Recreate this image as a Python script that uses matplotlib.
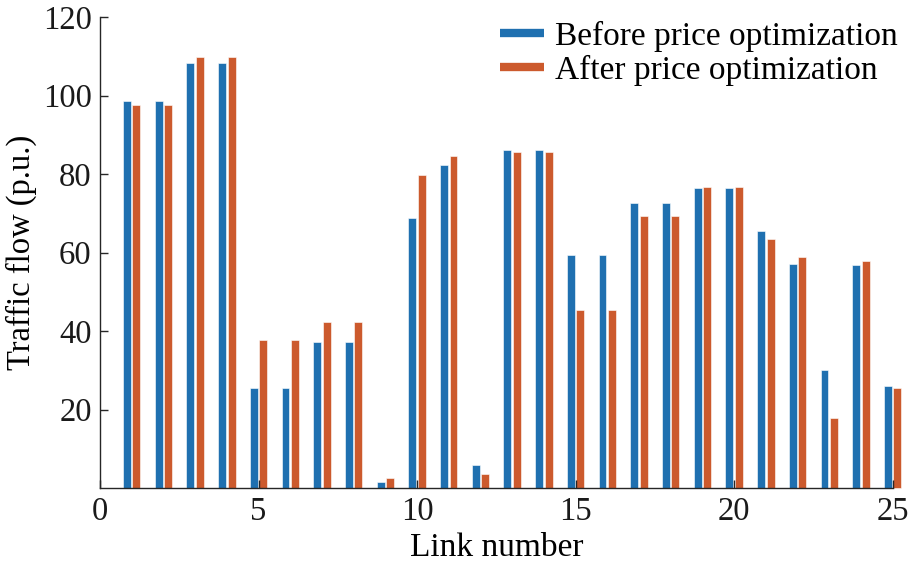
import numpy as np
import matplotlib
matplotlib.use("Agg")
import matplotlib.pyplot as plt
from matplotlib.lines import Line2D

plt.rcParams['font.family'] = ['Liberation Serif', 'DejaVu Serif']
plt.rcParams['mathtext.fontset'] = 'stix'

links = np.arange(1, 26)
before = [98.7, 98.7, 108.4, 108.4, 25.5, 25.5, 37.3, 37.3, 1.6, 68.7,
          82.3, 6.0, 86.2, 86.2, 59.4, 59.4, 72.6, 72.6, 76.4, 76.4,
          65.6, 57.1, 30.0, 56.8, 26.1]
after = [97.6, 97.6, 109.9, 109.9, 37.8, 37.8, 42.3, 42.3, 2.6, 79.8,
         84.6, 3.7, 85.6, 85.6, 45.4, 45.4, 69.4, 69.4, 76.6, 76.6,
         63.4, 58.9, 17.8, 57.9, 25.5]

blue = '#1f70b0'
orange = '#cc5a2d'

fig = plt.figure(figsize=(9.09, 5.69), dpi=100)
ax = fig.add_axes([0.110, 0.142, 0.872, 0.828])

w = 0.25
ax.bar(links - 0.15, before, width=w, color=blue, edgecolor='white', linewidth=0.4, clip_on=False)
ax.bar(links + 0.15, after, width=w, color=orange, edgecolor='white', linewidth=0.4, clip_on=False)

ax.set_xlim(0, 25)
ax.set_ylim(0, 120)
ax.set_xticks([0, 5, 10, 15, 20, 25])
ax.set_yticks([20, 40, 60, 80, 100, 120])
ax.spines['top'].set_visible(False)
ax.spines['right'].set_visible(False)
for s in ['left', 'bottom']:
    ax.spines[s].set_color('#262626')
    ax.spines[s].set_linewidth(1.0)
ax.tick_params(direction='in', length=6, width=1.0, labelsize=23.5, colors='#262626', pad=6)
ax.tick_params(labelcolor='#1a1a1a')

ax.set_xlabel('Link number', fontsize=24, labelpad=4)
ax.set_ylabel('Traffic flow (p.u.)', fontsize=23.5, labelpad=4)

handles = [Line2D([0], [0], color=blue, lw=6, solid_capstyle='butt'),
           Line2D([0], [0], color=orange, lw=6, solid_capstyle='butt')]
ax.legend(handles, ['Before price optimization', 'After price optimization'],
          loc='upper right', bbox_to_anchor=(1.032, 1.035), frameon=False, fontsize=24,
          handlelength=1.3, handletextpad=0.35, labelspacing=0.1, borderaxespad=0.2)

fig.savefig('out.png', dpi=100)
